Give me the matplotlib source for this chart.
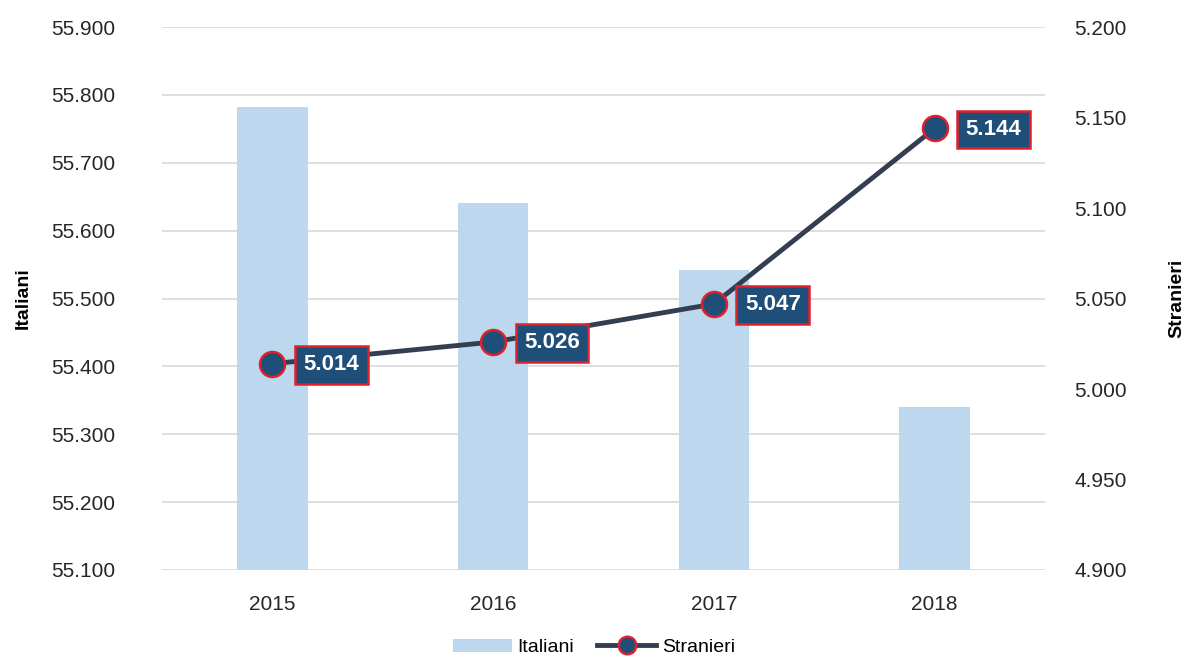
import matplotlib
matplotlib.use("Agg")
from matplotlib import pyplot as plt

plt.rcParams['font.family'] = ['Liberation Sans', 'DejaVu Sans']

anni = ["2015", "2016", "2017", "2018"]
italiani = [55.782, 55.641, 55.542, 55.340]
stranieri = [5.014, 5.026, 5.047, 5.144]
etichette = ["5.014", "5.026", "5.047", "5.144"]

sx_ticks = [55.1, 55.2, 55.3, 55.4, 55.5, 55.6, 55.7, 55.8, 55.9]
dx_ticks = [4.90, 4.95, 5.00, 5.05, 5.10, 5.15, 5.20]

fig = plt.figure(figsize=(11.88, 6.62), dpi=100)
ax = fig.add_axes([0.1364, 0.139, 0.7432, 0.820])
ax2 = ax.twinx()

x = range(len(anni))
barre = ax.bar(x, italiani, width=0.32, color="#bdd7ee", label="Italiani", zorder=2)
ax.set_ylim(55.1, 55.9)
ax.set_xlim(-0.5, 3.5)
ax.set_yticks(sx_ticks)
ax.set_yticklabels(["{:.3f}".format(v) for v in sx_ticks])
ax.set_xticks(list(x))
ax.set_xticklabels(anni)
ax.grid(axis="y", color="#d9d9d9", linewidth=1.2, zorder=0)
ax.set_axisbelow(True)

linea, = ax2.plot(x, stranieri, color="#333f50", linewidth=3.5, marker="o",
                  markersize=18, markerfacecolor="#1f4e79", markeredgecolor="#e0202a",
                  markeredgewidth=1.8, label="Stranieri", zorder=3)
ax2.set_ylim(4.9, 5.2)
ax2.set_yticks(dx_ticks)
ax2.set_yticklabels(["{:.3f}".format(v) for v in dx_ticks])

# etichette dei valori stranieri
for xi, yi, t in zip(x, stranieri, etichette):
    ax2.annotate(t, (xi, yi), xytext=(59, -1), textcoords="offset pixels",
                 ha="center", va="center", color="white", fontsize=16, fontweight="bold",
                 family=['Liberation Sans Narrow', 'Liberation Sans', 'DejaVu Sans'],
                 bbox=dict(boxstyle="square,pad=0.38", facecolor="#1f4e79", edgecolor="#e0202a",
                           linewidth=1.8), zorder=4)

for a in (ax, ax2):
    for s in a.spines.values():
        s.set_visible(False)
    a.tick_params(length=0, labelsize=15, colors="#262626", labelcolor="#262626")
ax.tick_params(axis="y", pad=34)
ax2.tick_params(axis="y", pad=21)
ax.tick_params(axis="x", pad=18)

ax.set_ylabel("Italiani", fontsize=14, fontweight="bold", labelpad=14)
ax2.set_ylabel("Stranieri", fontsize=14, fontweight="bold", labelpad=30)

fig.legend(handles=[barre, linea], labels=["Italiani", "Stranieri"], loc="center",
           bbox_to_anchor=(0.5, 0.022), ncol=2, frameon=False, fontsize=14,
           handlelength=3, columnspacing=1.2, handletextpad=0.3, markerscale=0.7)

plt.savefig("out.png", dpi=100)
